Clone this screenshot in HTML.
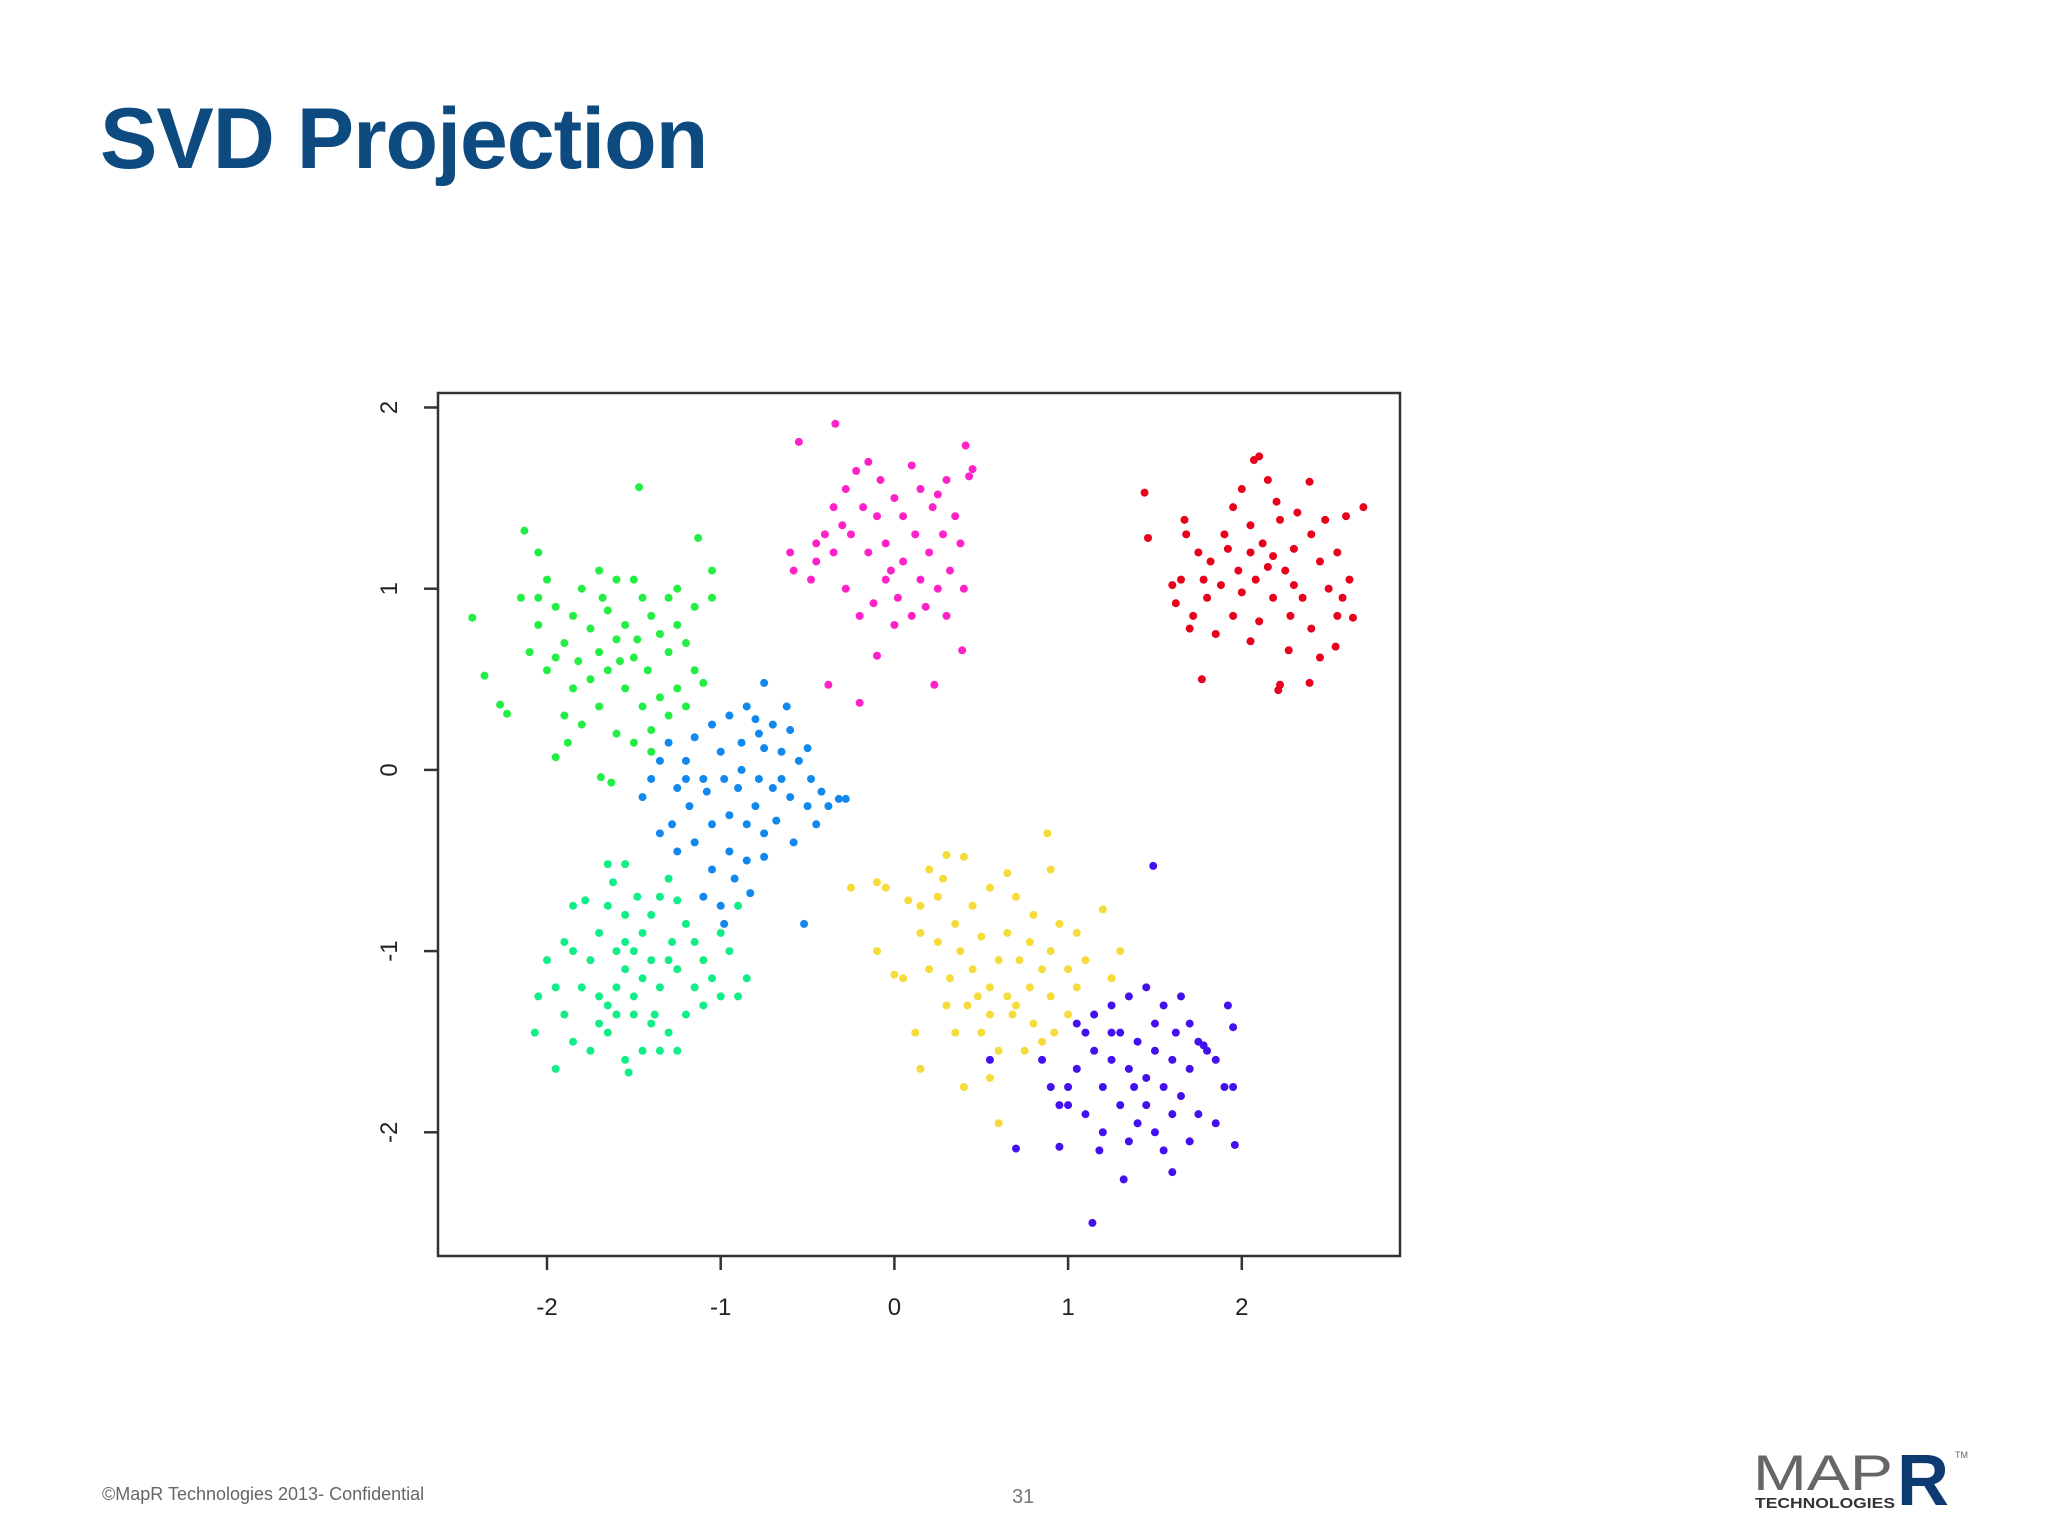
<!DOCTYPE html>
<html><head><meta charset="utf-8"><style>
html,body{margin:0;padding:0;background:#fff;}
#wrap{position:relative;width:2048px;height:1536px;overflow:hidden;background:#fff;font-family:"Liberation Sans",sans-serif;}
#title{position:absolute;left:100px;top:90px;font-size:86px;font-weight:bold;color:#0d4a80;letter-spacing:-1px;}
#foot{position:absolute;left:102px;top:1484px;font-size:18px;color:#666;}
#pnum{position:absolute;left:1012px;top:1486px;font-size:20px;color:#777;}
</style></head><body>
<div id="wrap">
<div id="title">SVD Projection</div>
<svg id="chart" width="2048" height="1536" style="position:absolute;left:0;top:0">
<rect x="438" y="393" width="962" height="863" fill="none" stroke="#333" stroke-width="2.5"/>
<g id="axes"></g>
<g id="pts"></g>
</svg>
<div id="foot">©MapR Technologies 2013- Confidential</div>
<div id="pnum">31</div>
<svg style="position:absolute;left:1745px;top:1445px" width="250" height="70">
<text x="8" y="45" font-family="Liberation Sans,sans-serif" font-size="50" fill="#666" textLength="140" lengthAdjust="spacingAndGlyphs">MAP</text>
<text x="152" y="60" font-family="Liberation Sans,sans-serif" font-weight="bold" font-size="72" fill="#0d3a70">R</text>
<text x="210" y="13" font-family="Liberation Sans,sans-serif" font-size="9" fill="#666">TM</text>
<text x="10" y="63" font-family="Liberation Sans,sans-serif" font-weight="bold" font-size="15" fill="#333" textLength="140" lengthAdjust="spacingAndGlyphs">TECHNOLOGIES</text>
</svg>
</div>
<script>
const xTicks=[-2,-1,0,1,2];
const yTicks=[-2,-1,0,1,2];
const clusterNames=['red','magenta','green','blue','teal','yellow','purple'];
const clusterColors=['#e8001c','#ff22c8','#22ee44','#1188ee','#11ee88','#f5dc3a','#4411ee'];
const redPts=[[1.44,1.53],[1.46,1.28],[2.10,1.73],[2.07,1.71],[2.39,1.59],[2.70,1.45],[2.60,1.40],[1.77,0.50],[2.22,0.47],[2.21,0.44],[2.39,0.48],[2.54,0.68],[2.64,0.84],[1.62,0.92],[2.05,0.71],[2.27,0.66],[1.67,1.38],[1.68,1.30],[1.75,1.20],[1.82,1.15],[1.90,1.30],[1.95,1.45],[2.00,1.55],[2.15,1.60],[2.20,1.48],[2.05,1.35],[2.12,1.25],[2.18,1.18],[2.25,1.10],[2.30,1.22],[2.40,1.30],[2.45,1.15],[2.55,1.20],[2.62,1.05],[2.50,1.00],[2.35,0.95],[2.28,0.85],[2.18,0.95],[2.08,1.05],[1.98,1.10],[1.88,1.02],[1.80,0.95],[1.72,0.85],[1.65,1.05],[1.85,0.75],[1.95,0.85],[2.10,0.82],[2.40,0.78],[2.55,0.85],[2.05,1.20],[1.92,1.22],[2.22,1.38],[2.32,1.42],[1.78,1.05],[2.00,0.98],[2.15,1.12],[2.48,1.38],[2.58,0.95],[1.70,0.78],[2.30,1.02],[1.60,1.02],[2.45,0.62]];
const magentaPts=[[-0.34,1.91],[-0.55,1.81],[-0.38,0.47],[-0.20,0.37],[0.23,0.47],[-0.10,0.63],[0.39,0.66],[0.45,1.66],[0.41,1.79],[0.43,1.62],[-0.60,1.20],[-0.58,1.10],[-0.48,1.05],[-0.45,1.15],[-0.40,1.30],[-0.35,1.45],[-0.28,1.55],[-0.22,1.65],[-0.15,1.70],[-0.08,1.60],[0.00,1.50],[0.10,1.68],[0.15,1.55],[0.22,1.45],[0.30,1.60],[0.35,1.40],[0.38,1.25],[0.32,1.10],[0.25,1.00],[0.18,0.90],[0.10,0.85],[0.02,0.95],[-0.05,1.05],[-0.12,0.92],[-0.20,0.85],[-0.28,1.00],[-0.35,1.20],[-0.25,1.30],[-0.15,1.20],[-0.05,1.25],[0.05,1.15],[0.12,1.30],[0.20,1.20],[0.28,1.30],[-0.10,1.40],[0.05,1.40],[-0.30,1.35],[0.00,0.80],[0.30,0.85],[0.40,1.00],[-0.45,1.25],[-0.18,1.45],[0.15,1.05],[-0.02,1.10],[0.25,1.52]];
const greenPts=[[-2.43,0.84],[-2.36,0.52],[-2.27,0.36],[-2.23,0.31],[-1.47,1.56],[-1.13,1.28],[-1.05,1.10],[-2.13,1.32],[-1.95,0.07],[-1.69,-0.04],[-1.63,-0.07],[-2.15,0.95],[-2.05,1.20],[-2.00,1.05],[-1.95,0.90],[-2.05,0.80],[-2.10,0.65],[-2.00,0.55],[-1.90,0.70],[-1.85,0.85],[-1.80,1.00],[-1.70,1.10],[-1.60,1.05],[-1.50,1.05],[-1.45,0.95],[-1.40,0.85],[-1.35,0.75],[-1.30,0.65],[-1.25,0.80],[-1.20,0.70],[-1.15,0.55],[-1.25,0.45],[-1.35,0.40],[-1.45,0.35],[-1.55,0.45],[-1.65,0.55],[-1.75,0.50],[-1.85,0.45],[-1.90,0.30],[-1.80,0.25],[-1.70,0.35],[-1.60,0.20],[-1.50,0.15],[-1.40,0.22],[-1.30,0.30],[-1.20,0.35],[-1.10,0.48],[-1.88,0.15],[-1.70,0.65],[-1.60,0.72],[-1.55,0.80],[-1.65,0.88],[-1.75,0.78],[-1.50,0.62],[-1.42,0.55],[-1.58,0.60],[-1.95,0.62],[-2.05,0.95],[-1.30,0.95],[-1.25,1.00],[-1.48,0.72],[-1.68,0.95],[-1.82,0.60],[-1.15,0.90],[-1.40,0.10],[-1.05,0.95]];
const bluePts=[[-0.75,0.48],[-0.52,-0.85],[-0.28,-0.16],[-0.32,-0.16],[-0.83,-0.68],[-1.45,-0.15],[-1.40,-0.05],[-1.35,0.05],[-1.30,0.15],[-1.25,-0.10],[-1.20,0.05],[-1.15,0.18],[-1.05,0.25],[-0.95,0.30],[-0.85,0.35],[-0.80,0.28],[-0.70,0.25],[-0.62,0.35],[-0.60,0.22],[-0.65,0.10],[-0.55,0.05],[-0.48,-0.05],[-0.42,-0.12],[-0.38,-0.20],[-0.50,-0.20],[-0.60,-0.15],[-0.70,-0.10],[-0.78,-0.05],[-0.88,0.00],[-0.98,-0.05],[-1.08,-0.12],[-1.18,-0.20],[-1.28,-0.30],[-1.35,-0.35],[-1.25,-0.45],[-1.15,-0.40],[-1.05,-0.30],[-0.95,-0.25],[-0.85,-0.30],[-0.75,-0.35],[-0.68,-0.28],[-0.58,-0.40],[-0.95,-0.45],[-1.05,-0.55],[-0.92,-0.60],[-0.85,-0.50],[-0.75,-0.48],[-1.10,-0.70],[-1.00,-0.75],[-0.98,-0.85],[-0.90,-0.10],[-1.00,0.10],[-0.88,0.15],[-0.75,0.12],[-1.20,-0.05],[-0.65,-0.05],[-0.50,0.12],[-0.45,-0.30],[-0.80,-0.20],[-1.10,-0.05],[-0.78,0.20]];
const tealPts=[[-2.07,-1.45],[-2.05,-1.25],[-1.95,-1.65],[-1.53,-1.67],[-1.55,-1.60],[-1.65,-0.52],[-1.55,-0.52],[-1.85,-0.75],[-1.90,-0.95],[-2.00,-1.05],[-1.95,-1.20],[-1.90,-1.35],[-1.85,-1.50],[-1.75,-1.55],[-1.70,-1.40],[-1.65,-1.30],[-1.60,-1.20],[-1.55,-1.10],[-1.50,-1.00],[-1.45,-0.90],[-1.40,-0.80],[-1.35,-0.70],[-1.30,-0.60],[-1.25,-0.72],[-1.20,-0.85],[-1.15,-0.95],[-1.10,-1.05],[-1.05,-1.15],[-1.00,-0.90],[-0.95,-1.00],[-0.90,-0.75],[-0.85,-1.15],[-0.90,-1.25],[-1.00,-1.25],[-1.10,-1.30],[-1.20,-1.35],[-1.30,-1.45],[-1.40,-1.40],[-1.50,-1.35],[-1.60,-1.35],[-1.70,-1.25],[-1.75,-1.05],[-1.70,-0.90],[-1.65,-0.75],[-1.55,-0.80],[-1.45,-1.15],[-1.35,-1.20],[-1.30,-1.05],[-1.25,-1.10],[-1.40,-1.05],[-1.50,-1.25],[-1.60,-1.00],[-1.55,-0.95],[-1.80,-1.20],[-1.85,-1.00],[-1.35,-1.55],[-1.25,-1.55],[-1.45,-1.55],[-1.65,-1.45],[-1.15,-1.20],[-1.28,-0.95],[-1.48,-0.70],[-1.78,-0.72],[-1.62,-0.62],[-1.38,-1.35]];
const yellowPts=[[-0.25,-0.65],[-0.10,-0.62],[-0.05,-0.65],[0.08,-0.72],[0.15,-0.75],[0.20,-0.55],[0.30,-0.47],[0.40,-0.48],[0.65,-0.57],[0.88,-0.35],[0.90,-0.55],[1.20,-0.77],[1.30,-1.00],[1.25,-1.15],[-0.10,-1.00],[0.00,-1.13],[0.05,-1.15],[0.12,-1.45],[0.15,-1.65],[0.40,-1.75],[0.60,-1.95],[0.55,-1.70],[0.75,-1.55],[0.85,-1.50],[0.25,-0.70],[0.35,-0.85],[0.45,-0.75],[0.55,-0.65],[0.70,-0.70],[0.80,-0.80],[0.95,-0.85],[1.05,-0.90],[1.10,-1.05],[1.00,-1.10],[0.90,-1.00],[0.78,-0.95],[0.65,-0.90],[0.50,-0.92],[0.38,-1.00],[0.25,-0.95],[0.15,-0.90],[0.20,-1.10],[0.32,-1.15],[0.45,-1.10],[0.55,-1.20],[0.65,-1.25],[0.78,-1.20],[0.90,-1.25],[1.00,-1.35],[0.92,-1.45],[0.80,-1.40],[0.68,-1.35],[0.55,-1.35],[0.42,-1.30],[0.30,-1.30],[0.35,-1.45],[0.50,-1.45],[0.60,-1.55],[0.70,-1.30],[0.85,-1.10],[0.60,-1.05],[0.48,-1.25],[0.72,-1.05],[1.05,-1.20],[0.28,-0.60]];
const purplePts=[[1.49,-0.53],[1.14,-2.50],[1.32,-2.26],[0.70,-2.09],[0.95,-2.08],[1.96,-2.07],[1.60,-2.22],[0.55,-1.60],[0.85,-1.60],[0.95,-1.85],[1.00,-1.85],[1.10,-1.45],[1.15,-1.35],[1.25,-1.30],[1.35,-1.25],[1.45,-1.20],[1.55,-1.30],[1.65,-1.25],[1.70,-1.40],[1.75,-1.50],[1.80,-1.55],[1.85,-1.60],[1.92,-1.30],[1.95,-1.42],[1.90,-1.75],[1.95,-1.75],[1.85,-1.95],[1.75,-1.90],[1.65,-1.80],[1.55,-1.75],[1.45,-1.70],[1.35,-1.65],[1.25,-1.60],[1.15,-1.55],[1.05,-1.65],[1.00,-1.75],[1.10,-1.90],[1.20,-2.00],[1.30,-1.85],[1.40,-1.95],[1.50,-2.00],[1.60,-1.90],[1.70,-2.05],[1.40,-1.50],[1.30,-1.45],[1.50,-1.55],[1.60,-1.60],[1.20,-1.75],[1.45,-1.85],[1.35,-2.05],[1.18,-2.10],[1.62,-1.45],[1.25,-1.45],[1.38,-1.75],[1.55,-2.10],[1.70,-1.65],[0.90,-1.75],[1.05,-1.40],[1.50,-1.40],[1.78,-1.52]];
const clusters=[redPts,magentaPts,greenPts,bluePts,tealPts,yellowPts,purplePts];

const NS='http://www.w3.org/2000/svg';
function sx(v){return 547+(v+2)*173.7;}
function sy(v){return 407.5+(2-v)*181.2;}
const axes=document.getElementById('axes');
const pts=document.getElementById('pts');
function mk(tag,attrs,parent){const e=document.createElementNS(NS,tag);for(const k in attrs)e.setAttribute(k,attrs[k]);parent.appendChild(e);return e;}
xTicks.forEach(t=>{
  const l=mk('line',{x1:sx(t),x2:sx(t),y1:1256,y2:1270,stroke:'#333','stroke-width':2.5},axes);
  
  
  const tx=mk('text',{x:sx(t),y:1315,'text-anchor':'middle','font-size':24,fill:'#222','font-family':'Liberation Sans,sans-serif'},axes);
  tx.textContent=t;
  
  
});
yTicks.forEach(t=>{
  const l=mk('line',{x1:424,x2:438,y1:sy(t),y2:sy(t),stroke:'#333','stroke-width':2.5},axes);
  
  
  const tx=mk('text',{x:0,y:0,'text-anchor':'middle','font-size':24,fill:'#222','font-family':'Liberation Sans,sans-serif',transform:'translate(397,'+sy(t)+') rotate(-90)'},axes);
  tx.textContent=t;
  
  
});
clusters.forEach((arr,i)=>{
  arr.forEach(p=>{
    const c=mk('circle',{cx:sx(p[0]),cy:sy(p[1]),r:4,fill:clusterColors[i]},pts);
    
    
  });
});
</script>
</body></html>
